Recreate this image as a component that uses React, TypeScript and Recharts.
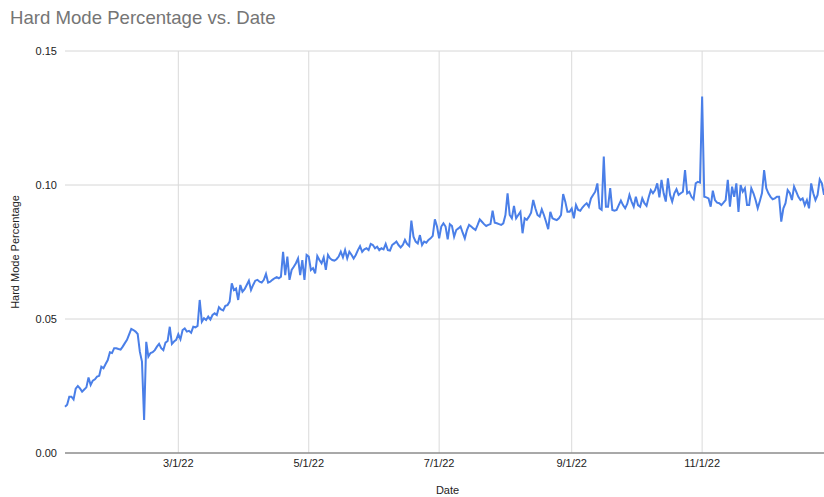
import React from 'react';
import { LineChart, Line, XAxis, YAxis, CartesianGrid, ReferenceLine } from 'recharts';

// Hard mode percentage per day, 2022 (one array per month)
const janValues = [0.0173, 0.0180, 0.0210, 0.0210, 0.0200, 0.0240, 0.0250, 0.0241, 0.0229, 0.0237, 0.0245, 0.0282, 0.0254, 0.0270, 0.0275, 0.0285, 0.0288, 0.0322, 0.0316, 0.0332, 0.0347, 0.0376, 0.0373, 0.0391, 0.0391];
const febValues = [0.0388, 0.0386, 0.0397, 0.0410, 0.0422, 0.0443, 0.0463, 0.0459, 0.0453, 0.0444, 0.0378, 0.0341, 0.0123, 0.0415, 0.0360, 0.0373, 0.0376, 0.0384, 0.0397, 0.0407, 0.0391, 0.0384, 0.0412, 0.0418, 0.0471, 0.0407, 0.0416, 0.0422];
const marValues = [0.0443, 0.0424, 0.0459, 0.0465, 0.0453, 0.0456, 0.0449, 0.0471, 0.0469, 0.0474, 0.0571, 0.0490, 0.0503, 0.0496, 0.0509, 0.0498, 0.0515, 0.0521, 0.0515, 0.0544, 0.0536, 0.0532, 0.0549, 0.0552, 0.0565, 0.0633, 0.0608, 0.0614, 0.0571, 0.0627, 0.0602];
const aprValues = [0.0611, 0.0627, 0.0643, 0.0608, 0.0627, 0.0643, 0.0646, 0.0639, 0.0636, 0.0646, 0.0668, 0.0636, 0.0639, 0.0646, 0.0652, 0.0656, 0.0652, 0.0658, 0.0751, 0.0664, 0.0733, 0.0646, 0.0683, 0.0695, 0.0708, 0.0726, 0.0664, 0.0720, 0.0646, 0.0739];
const mayValues = [0.0733, 0.0683, 0.0690, 0.0670, 0.0735, 0.0720, 0.0708, 0.0730, 0.0683, 0.0739, 0.0726, 0.0720, 0.0718, 0.0723, 0.0733, 0.0751, 0.0730, 0.0757, 0.0726, 0.0751, 0.0740, 0.0726, 0.0739, 0.0757, 0.0772, 0.0751, 0.0760, 0.0764, 0.0757, 0.0780, 0.0776];
const junValues = [0.0764, 0.0770, 0.0757, 0.0764, 0.0760, 0.0780, 0.0757, 0.0755, 0.0776, 0.0782, 0.0789, 0.0776, 0.0767, 0.0776, 0.0795, 0.0780, 0.0772, 0.0867, 0.0807, 0.0789, 0.0782, 0.0813, 0.0776, 0.0789, 0.0785, 0.0795, 0.0801, 0.0810, 0.0872, 0.0845];
const julValues = [0.0801, 0.0845, 0.0857, 0.0845, 0.0797, 0.0854, 0.0847, 0.0807, 0.0832, 0.0838, 0.0845, 0.0822, 0.0801, 0.0832, 0.0851, 0.0845, 0.0838, 0.0832, 0.0851, 0.0872, 0.0863, 0.0854, 0.0847, 0.0851, 0.0854, 0.0904, 0.0859, 0.0857, 0.0854, 0.0851, 0.0857];
const augValues = [0.0888, 0.0969, 0.0888, 0.0876, 0.0922, 0.0876, 0.0888, 0.0900, 0.0820, 0.0876, 0.0870, 0.0882, 0.0897, 0.0944, 0.0913, 0.0888, 0.0882, 0.0909, 0.0888, 0.0863, 0.0835, 0.0900, 0.0876, 0.0872, 0.0869, 0.0876, 0.0888, 0.0966, 0.0938, 0.0900, 0.0900];
const sepValues = [0.0912, 0.0876, 0.0925, 0.0907, 0.0904, 0.0916, 0.0925, 0.0932, 0.0919, 0.0950, 0.0963, 0.0975, 0.1006, 0.0913, 0.0907, 0.1106, 0.0919, 0.0919, 0.0988, 0.0907, 0.0904, 0.0907, 0.0925, 0.0942, 0.0925, 0.0913, 0.0930, 0.0963, 0.0938, 0.0919];
const octValues = [0.0956, 0.0925, 0.0919, 0.0950, 0.0932, 0.0922, 0.0954, 0.0981, 0.0969, 0.0981, 0.1006, 0.0954, 0.1019, 0.0969, 0.0938, 0.1025, 0.0963, 0.0938, 0.0969, 0.0984, 0.0963, 0.0969, 0.0975, 0.1056, 0.0969, 0.0975, 0.0956, 0.0947, 0.1006, 0.1012, 0.1009];
const novValues = [0.1330, 0.0956, 0.0954, 0.0950, 0.0919, 0.0979, 0.0944, 0.0934, 0.0932, 0.0925, 0.0934, 0.0944, 0.1019, 0.0919, 0.0994, 0.0956, 0.1006, 0.0900, 0.1000, 0.0975, 0.0988, 0.0925, 0.0925, 0.0988, 0.0969, 0.0944, 0.0913, 0.0940, 0.0970, 0.1056];
const decValues = [0.0988, 0.0969, 0.0956, 0.0947, 0.0950, 0.0956, 0.0956, 0.0863, 0.0913, 0.0932, 0.0981, 0.0970, 0.0944, 0.0994, 0.0975, 0.0956, 0.0944, 0.0950, 0.0925, 0.0944, 0.0913, 0.1006, 0.0969, 0.0944, 0.0963, 0.1021, 0.1006, 0.0963];

// month index (0-based) and first day of each month's run
const monthRuns = [
  { month: 0, firstDay: 7, values: janValues },
  { month: 1, firstDay: 1, values: febValues },
  { month: 2, firstDay: 1, values: marValues },
  { month: 3, firstDay: 1, values: aprValues },
  { month: 4, firstDay: 1, values: mayValues },
  { month: 5, firstDay: 1, values: junValues },
  { month: 6, firstDay: 1, values: julValues },
  { month: 7, firstDay: 1, values: augValues },
  { month: 8, firstDay: 1, values: sepValues },
  { month: 9, firstDay: 1, values: octValues },
  { month: 10, firstDay: 1, values: novValues },
  { month: 11, firstDay: 1, values: decValues },
];

const xTickLabels = ['3/1/22', '5/1/22', '7/1/22', '9/1/22', '11/1/22'];
const yTicks = [0, 0.05, 0.1, 0.15];

const YEAR = 2022;
const data = monthRuns.flatMap(({ month, firstDay, values }) =>
  values.map((v, i) => ({ t: Date.UTC(YEAR, month, firstDay + i), v }))
);
const xTicks = xTickLabels.map((s) => {
  const [m, d, y] = s.split('/').map(Number);
  return Date.UTC(2000 + y, m - 1, d);
});
const fmtDate = (t: number) => {
  const d = new Date(t);
  return `${d.getUTCMonth() + 1}/${d.getUTCDate()}/${String(d.getUTCFullYear()).slice(2)}`;
};

const FONT = '"Liberation Sans", Arial, sans-serif';

export default function App() {
  return (
    <div style={{ position: 'absolute', left: 0, top: 0, width: 824, height: 497, background: '#fff', fontFamily: FONT }}>
      <svg width={824} height={40} style={{ position: 'absolute', left: 0, top: 0 }}>
        <text x={10} y={24.3} fontFamily={FONT} fontSize={18.6} fill="#757575">
          Hard Mode Percentage vs. Date
        </text>
      </svg>
      <div style={{ position: 'absolute', left: 0, top: 0 }}>
        <LineChart width={824} height={497} data={data} margin={{ top: 51, right: 0, bottom: 0, left: 0 }}>
          <CartesianGrid stroke="#d6d6d6" strokeWidth={1} vertical={false} />
          {xTicks.map((t) => (
            <ReferenceLine key={t} x={t} stroke="#dadada" strokeWidth={1} />
          ))}
          <XAxis
            dataKey="t"
            type="number"
            domain={['dataMin', 'dataMax']}
            ticks={xTicks}
            tickFormatter={fmtDate}
            height={44}
            tickLine={false}
            tickSize={6}
            tickMargin={0}
            axisLine={{ stroke: '#666', strokeWidth: 1 }}
            tick={{ fontSize: 11, fill: '#222', fontFamily: FONT }}
            label={{ value: 'Date', dx: 3, position: 'insideBottom', offset: 3, style: { fontSize: 11, fill: '#222', fontFamily: FONT } }}
          />
          <YAxis
            type="number"
            domain={[0, 0.15]}
            ticks={yTicks}
            tickFormatter={(v: number) => v.toFixed(2)}
            width={65}
            tickLine={false}
            axisLine={false}
            tickSize={6}
            tickMargin={2}
            tick={{ fontSize: 11, fill: '#222', fontFamily: FONT }}
            label={{ value: 'Hard Mode Percentage', angle: -90, position: 'insideLeft', offset: 15, style: { fontSize: 11, fill: '#222', fontFamily: FONT, textAnchor: 'middle' } }}
          />
          <Line
            type="linear"
            dataKey="v"
            stroke="#4a7fe8"
            strokeWidth={2}
            dot={false}
            activeDot={false}
            isAnimationActive={false}
          />
        </LineChart>
      </div>
    </div>
  );
}
